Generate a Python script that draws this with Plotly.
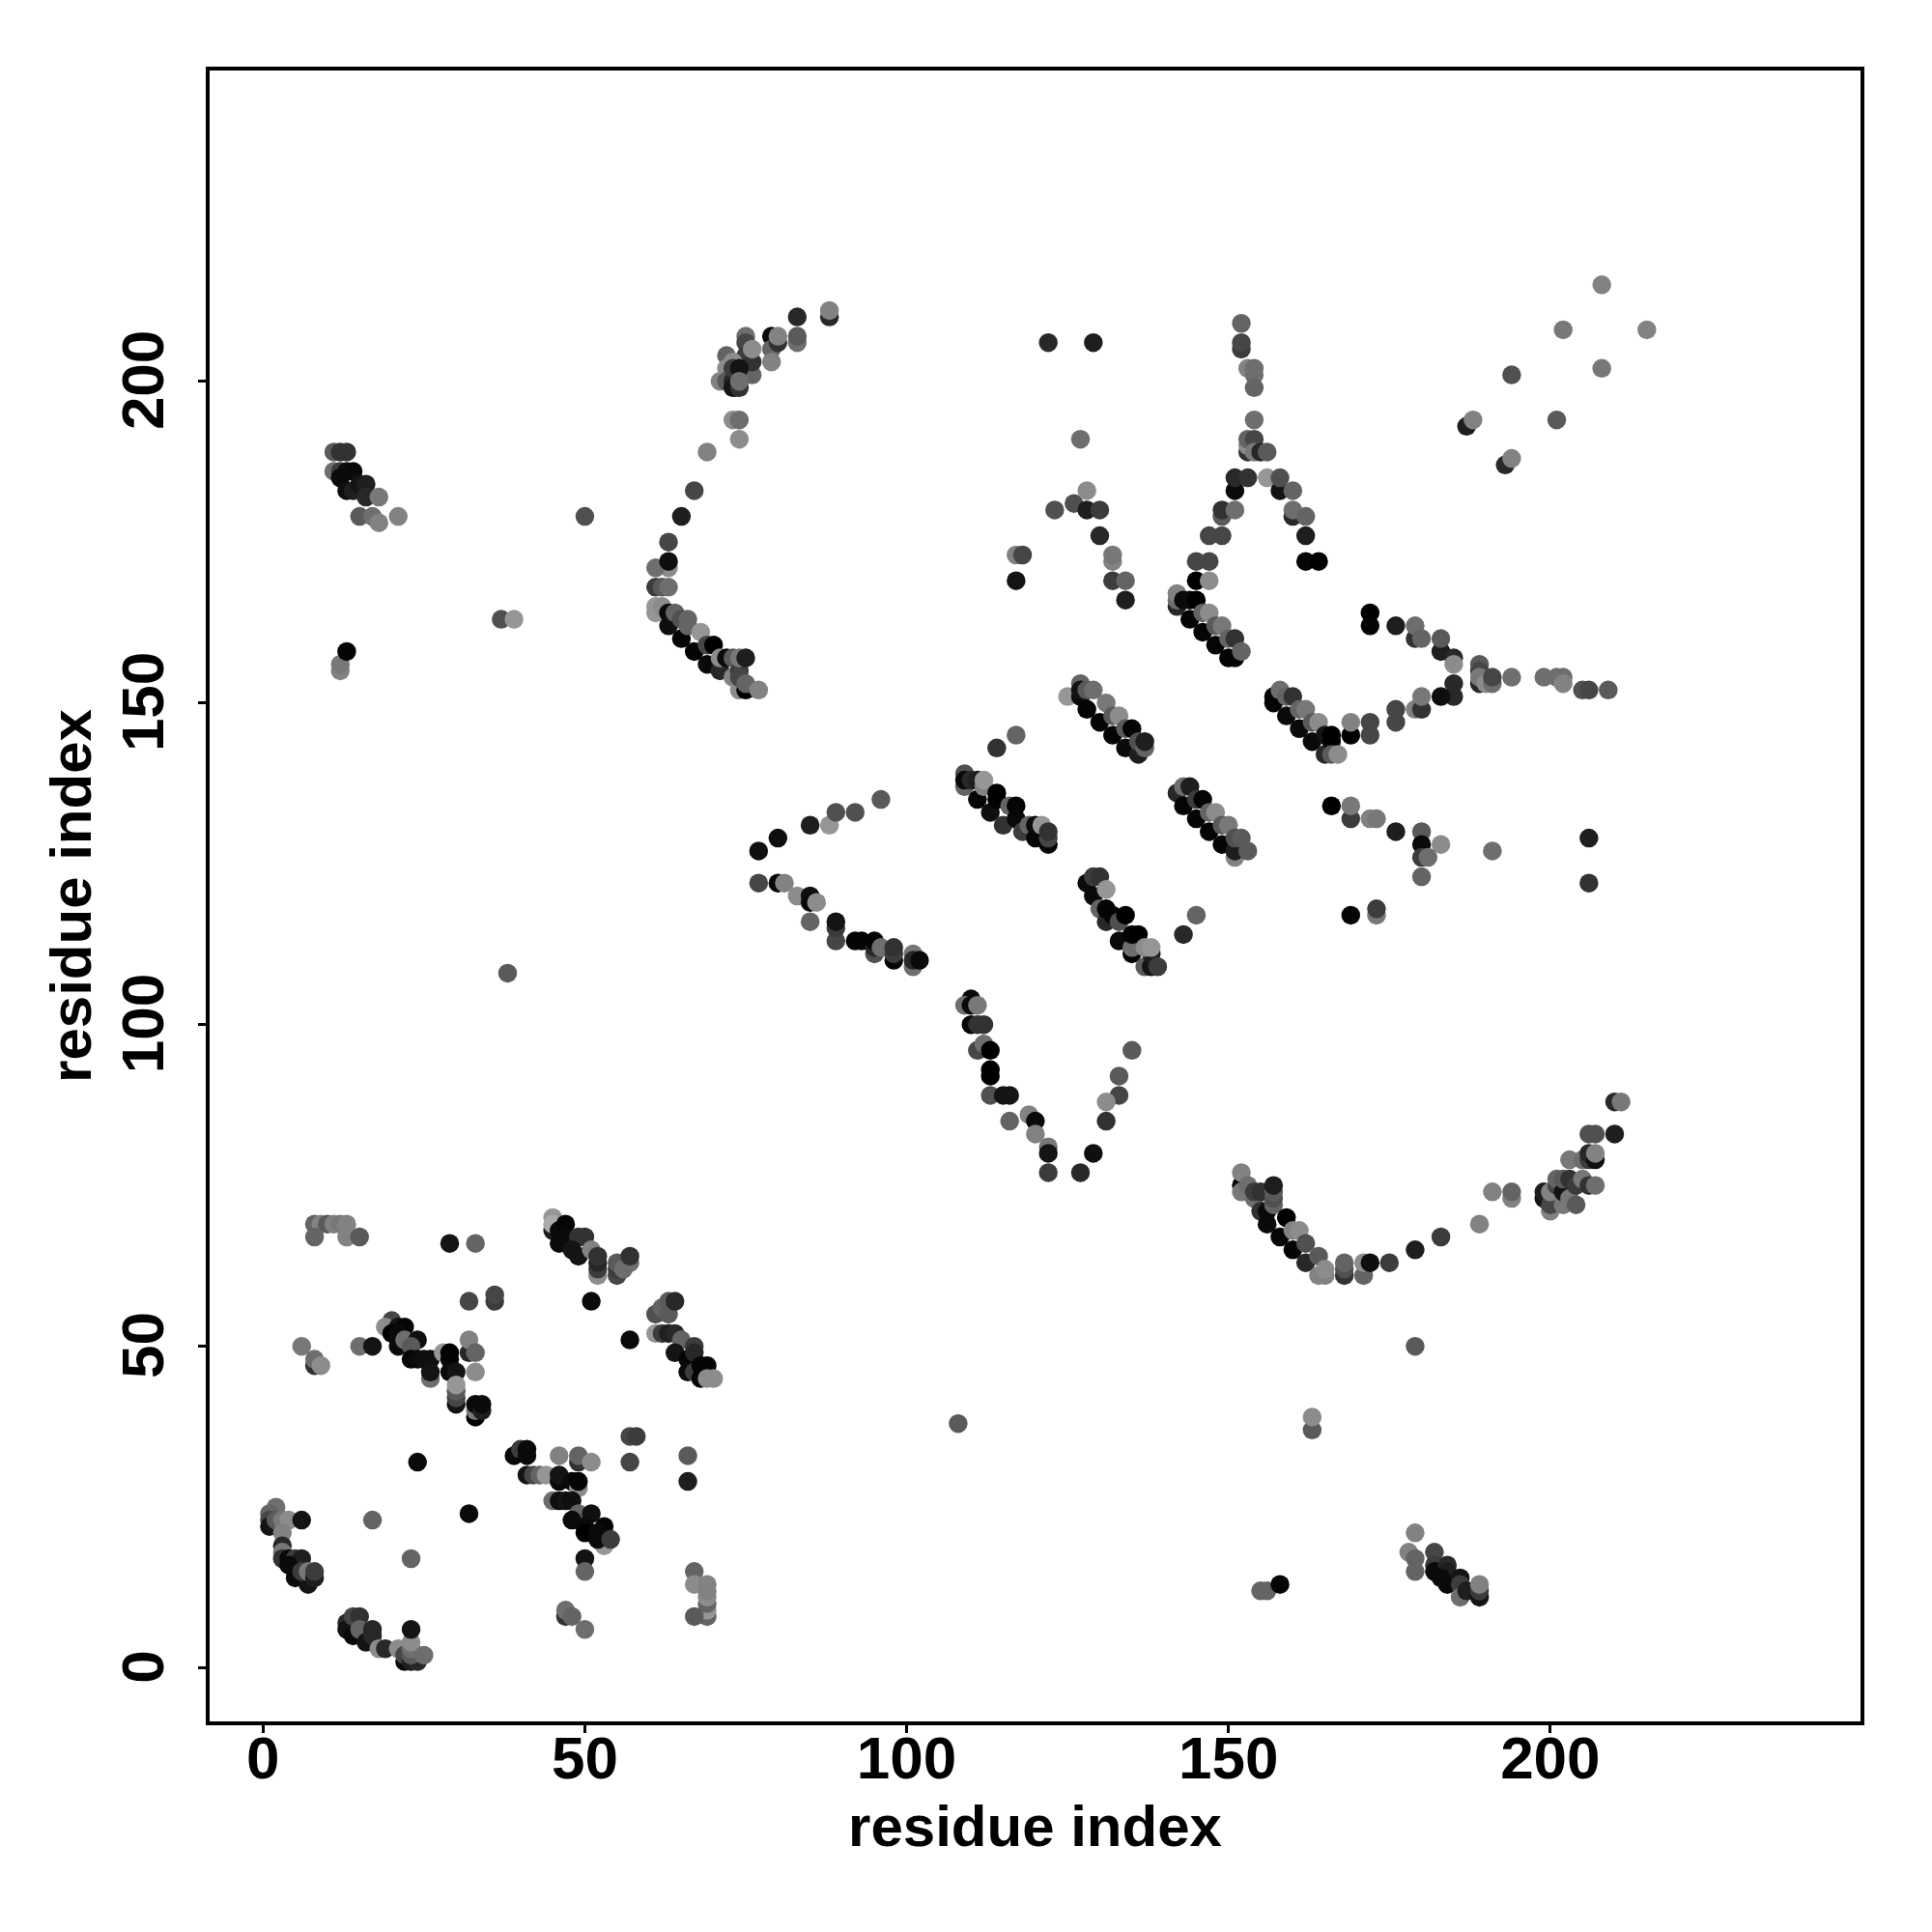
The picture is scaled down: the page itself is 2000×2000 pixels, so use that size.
import plotly.graph_objects as go

# each contact: (residue x, residue y, grey level)
lower_left_c = [(2,25,110),(1,24,100),(1,23,70),(1,22,20),(2,23,90),(3,23,120),(4,23,140),(6,23,20),(3,21,130),(3,19,40),(3,18,120),(3,17,50),(4,17,10),(5,17,60),(6,17,30),(4,16,10),(5,14,10),(7,13,20),(6,15,60),(7,15,120),(8,14,30),(8,15,60),(17,23,100),(23,17,100),(24,32,10),(32,24,10)]
bottom_arc = [(13,7,40),(13,6,20),(14,8,70),(15,8,50),(14,5,10),(15,6,100),(16,4,20),(17,6,40),(17,5,40),(18,3,140),(19,3,40),(21,3,140),(22,1,10),(22,2,70),(23,1,30),(24,1,40),(23,2,90),(23,3,110),(23,4,140),(23,6,20),(25,2,110),(47,8,50),(47,9,110),(48,8,100),(50,6,110),(50,17,20),(50,15,100)]
top_row = [(8,69,100),(9,69,130),(10,69,90),(11,69,130),(12,69,120),(13,69,130),(8,67,100),(13,67,130),(15,67,90),(29,66,20),(33,66,100),(32,57,70),(36,57,60),(36,58,70),(6,50,120),(8,47,50),(8,48,110),(9,47,140),(15,50,110),(17,50,20)]
diag_a = [(20,54,70),(19,53,140),(21,53,20),(22,53,5),(20,52,0),(21,52,10),(21,50,10),(22,51,110),(24,51,15),(23,50,90),(23,48,5),(24,48,10),(25,48,15),(26,48,15),(26,45,110),(26,46,20),(28,49,150),(29,49,0),(29,48,5),(29,46,10),(30,46,20),(30,41,20),(30,42,70),(30,43,90),(30,44,150),(32,49,40),(32,51,130),(33,49,100),(33,46,140),(33,39,0),(33,40,120),(33,41,10),(34,40,30),(34,41,10)]
diag_b = [(45,68,30),(45,70,150),(45,69,170),(46,68,10),(46,66,10),(47,69,5),(47,67,10),(49,67,50),(50,67,50),(48,65,20),(49,64,20),(51,65,130),(52,61,140),(52,62,60),(52,63,40),(52,64,50),(55,61,70),(55,62,60),(55,63,90),(56,62,110),(57,63,110),(57,64,50),(51,57,10),(57,51,10)]
diag_c = [(61,55,80),(62,56,100),(63,55,90),(63,57,90),(64,57,40),(61,52,150),(62,52,60),(63,52,30),(64,52,40),(65,51,100),(64,49,20),(66,48,5),(66,46,10),(67,46,60),(67,50,60),(67,49,40),(68,47,5),(69,47,5),(68,45,5),(69,45,140),(70,45,140)]
mid_low = [(57,36,70),(58,36,60),(57,32,70),(66,33,90),(66,29,30),(46,33,130),(49,32,50),(49,33,100),(51,32,140),(39,33,10),(40,34,60),(41,34,10),(41,33,10),(41,30,20),(42,30,70),(43,30,100),(44,30,150),(46,29,10),(46,30,20),(48,29,10),(49,28,140),(49,29,5),(45,26,110),(46,26,15),(47,26,20),(48,26,15),(49,24,100),(51,24,15),(48,23,10),(50,22,10),(53,22,5),(50,21,0),(52,21,10),(53,19,150),(52,20,10),(54,20,60),(67,15,100),(67,13,140),(69,8,100),(69,9,150),(69,10,100),(69,11,140),(69,12,130),(69,13,130),(67,8,90)]
arc_top = [(88,210,40),(88,211,130),(83,210,40),(83,206,110),(83,207,90),(79,207,10),(79,205,100),(79,203,130),(80,206,50),(80,207,130),(75,207,110),(75,206,70),(75,204,60),(75,201,100),(76,201,100),(76,203,50),(76,205,140),(71,200,130),(72,204,100),(72,202,140),(72,200,90),(73,200,40),(73,199,20),(74,199,50),(73,203,140),(73,202,60),(74,202,20),(74,200,110),(73,194,140),(74,194,110),(74,191,140),(69,189,130),(67,183,70),(65,179,30),(63,175,70),(63,171,140),(61,171,110),(63,172,15),(61,168,60),(62,168,90),(63,168,110)]
arc_low = [(61,164,150),(61,165,150),(62,165,140),(63,164,10),(63,162,15),(64,164,100),(65,163,80),(65,160,5),(66,163,100),(66,162,100),(67,158,5),(68,161,150),(69,159,70),(69,156,10),(70,159,0),(71,155,40),(71,157,140),(72,157,10),(73,157,90),(73,154,130),(74,152,140),(75,152,0),(74,155,60),(74,154,70),(75,153,100),(74,157,120),(75,157,30),(77,152,130)]
strand_1 = [(109,139,80),(109,137,100),(109,138,10),(110,138,40),(111,135,5),(111,138,30),(112,137,130),(112,138,150),(113,133,15),(114,135,5),(114,136,0),(115,131,50),(116,134,100),(117,132,10),(117,134,5),(118,130,60),(119,131,100),(120,129,5),(120,131,10),(121,131,150),(122,128,5),(122,129,70),(122,130,50)]
strand_2 = [(128,122,10),(129,123,60),(130,123,50),(129,120,10),(131,121,150),(130,118,100),(131,116,40),(131,118,5),(132,117,5),(133,113,10),(133,116,80),(134,117,0),(135,111,5),(135,112,110),(135,114,5),(136,114,0),(137,109,90),(138,109,20),(138,111,30),(137,112,140),(138,112,150),(139,109,60),(145,117,100),(143,114,40),(135,96,90)]
strand_3 = [(127,153,100),(125,151,150),(127,151,10),(127,152,20),(128,149,5),(128,152,90),(129,152,110),(130,147,5),(131,150,120),(132,145,5),(132,148,90),(133,148,140),(134,143,10),(134,146,90),(135,146,5),(136,142,30),(136,144,80),(137,143,100),(137,144,30)]
strand_4 = [(157,150,5),(157,151,5),(158,152,110),(159,148,10),(159,151,100),(160,151,50),(161,146,10),(161,149,100),(162,149,120),(163,144,10),(163,147,90),(164,147,140),(165,142,40),(165,145,20),(166,144,5),(166,145,0),(166,142,90),(167,142,140)]
strand_5 = [(142,136,40),(143,137,110),(143,134,5),(144,137,30),(145,132,5),(145,135,60),(146,135,5),(147,130,5),(147,133,100),(148,133,140),(149,128,5),(149,131,90),(150,131,120),(151,126,130),(151,127,30),(151,129,80),(152,129,90),(153,127,90),(166,134,0)]
tail_mid = [(77,122,70),(80,122,5),(81,122,130),(83,120,140),(85,120,15),(85,119,10),(86,119,140),(85,116,100),(89,113,70),(89,115,60),(89,116,20),(92,113,5),(93,113,5),(95,111,80),(95,112,40),(95,113,5),(96,112,110),(98,110,5),(98,111,60),(98,112,50),(101,109,110),(101,111,120),(101,110,40),(102,110,10),(77,127,15),(80,129,15),(85,131,30),(88,131,150),(89,133,80),(92,133,80),(96,135,90)]
v_shape = [(110,104,10),(109,103,110),(110,103,10),(111,103,120),(110,100,5),(111,100,50),(112,100,50),(111,96,70),(112,97,110),(113,96,0),(113,93,0),(113,92,0),(113,89,80),(115,89,20),(116,89,20),(116,85,100),(119,86,130),(120,85,10),(120,83,130),(122,81,120),(122,80,20),(122,77,60),(127,77,40),(129,80,15),(131,85,50),(133,89,70),(131,88,140),(133,92,90)]
peak = [(152,209,100),(152,205,60),(152,206,70),(153,202,130),(154,201,110),(154,202,110),(154,199,100),(154,194,110),(153,189,50),(153,190,140),(153,191,100),(154,191,70),(154,189,120),(155,189,40),(156,189,90),(151,183,10),(151,185,40),(153,185,50),(156,185,150),(158,183,20),(158,185,80),(160,183,100),(149,179,90),(149,180,50),(151,180,110),(160,179,40),(160,180,110),(162,179,100),(147,176,70),(149,176,70),(162,176,30),(145,172,70),(147,172,70),(162,172,5),(164,172,0),(145,169,0),(147,169,140)]
peak_foot = [(142,165,40),(142,166,110),(142,167,130),(143,166,10),(144,163,5),(144,166,10),(145,166,0),(146,161,5),(146,164,100),(147,164,140),(148,159,5),(148,162,90),(149,162,120),(150,157,5),(151,157,5),(150,160,100),(151,160,50),(152,158,100)]
right_arm = [(172,164,0),(172,162,5),(176,162,30),(179,160,50),(179,162,110),(180,160,100),(183,158,30),(183,160,90),(185,157,40),(185,156,140),(189,156,90),(189,155,70),(189,153,40),(189,154,120),(190,153,140),(191,153,110),(191,154,70),(194,154,110),(185,153,40),(185,151,40),(183,151,15),(179,149,130),(180,149,50),(180,151,120),(176,147,70),(176,149,70),(172,145,70),(172,147,70),(169,145,0),(169,147,130),(199,154,110),(201,154,110),(202,154,110),(202,153,130),(205,152,80),(206,152,70),(209,152,90)]
right_scatter = [(169,132,60),(169,134,120),(172,132,130),(173,132,120),(176,130,30),(180,130,90),(180,128,10),(183,128,140),(180,126,60),(181,126,110),(180,123,100),(191,127,110),(169,117,5),(173,117,120),(173,118,60),(206,129,30),(206,122,50)]
upper_right = [(208,215,130),(215,208,130),(202,208,120),(208,202,120),(194,201,80),(201,194,90),(187,193,30),(188,194,130),(193,187,40),(194,188,130)]
upper_mid = [(122,206,40),(129,206,30),(127,191,110),(123,180,80),(126,181,80),(128,183,140),(128,180,30),(130,180,60),(130,176,40),(132,172,130),(132,173,120),(132,169,60),(134,169,100),(134,166,30),(117,173,130),(118,173,70),(117,169,20),(117,145,100),(114,143,50),(50,179,80),(37,163,80),(39,163,150)]
upper_left = [(11,189,90),(12,189,50),(13,189,50),(11,186,110),(12,186,60),(13,186,15),(12,185,10),(14,186,10),(13,183,15),(14,183,30),(15,184,20),(16,184,30),(16,182,40),(18,182,120),(15,179,90),(17,179,110),(18,178,130),(21,179,130),(12,155,130),(12,156,120),(13,158,5),(38,108,90),(108,38,90)]
v_right_a = [(152,75,5),(152,74,120),(152,77,130),(153,75,110),(154,73,110),(154,74,60),(155,74,50),(155,71,50),(156,71,10),(156,69,10),(157,72,100),(157,73,80),(157,74,90),(157,75,30),(158,67,5),(159,70,0),(160,65,5),(160,68,130),(161,68,140),(162,63,40),(162,66,80),(164,61,130),(164,64,90),(165,61,130),(165,62,140),(168,61,50),(168,62,80),(168,63,100),(171,61,100),(171,63,140),(172,63,15),(175,63,60),(179,65,30),(183,67,60),(189,69,130)]
v_right_b = [(191,74,130),(194,73,130),(194,74,100),(199,73,20),(199,74,30),(200,71,130),(200,72,70),(200,74,130),(201,75,70),(201,76,100),(202,72,120),(202,74,20),(202,76,90),(203,73,120),(203,76,50),(204,72,90),(204,75,60),(205,76,120),(206,75,50),(207,75,110),(203,79,120),(205,79,110),(206,79,60),(206,80,40),(207,79,15),(207,80,130),(206,83,80),(207,83,80),(210,83,30),(210,88,40),(211,88,120)]
low_right = [(179,50,90),(163,37,90),(163,39,140),(179,21,130),(178,18,130),(179,17,100),(179,15,100),(182,18,70),(182,16,60),(182,15,10),(184,16,40),(184,15,30),(183,14,10),(184,13,10),(186,14,20),(186,13,60),(186,11,110),(187,12,30),(189,11,20),(189,12,60),(189,13,130),(155,12,100),(156,12,100),(158,13,5)]

tick_values = [0, 50, 100, 150, 200]
x_title = "residue index"
y_title = "residue index"

clusters = [lower_left_c, bottom_arc, top_row, diag_a, diag_b, diag_c, mid_low, arc_top, arc_low,
            strand_1, strand_2, strand_3, strand_4, strand_5, tail_mid, v_shape, peak, peak_foot,
            right_arm, right_scatter, upper_right, upper_mid, upper_left, v_right_a, v_right_b, low_right]
pts = [p for c in clusters for p in c]
xs = [p[0] for p in pts]
ys = [p[1] for p in pts]
cols = [f"rgb({p[2]},{p[2]},{p[2]})" for p in pts]

fig = go.Figure(go.Scatter(x=xs, y=ys, mode="markers", cliponaxis=True,
                           marker=dict(size=19.5, color=cols, line=dict(width=0))))
font = dict(family="Liberation Sans", size=62, color="black", weight="bold")
tfont = dict(family="Liberation Sans", size=60, color="black", weight="bold")
common = dict(tickmode="array", tickvals=tick_values, showgrid=False, zeroline=False,
              showline=True, linecolor="black", linewidth=3.5, mirror=True,
              ticks="outside", ticklen=8, tickwidth=3, tickcolor="black", tickfont=font)
fig.update_xaxes(range=[-8.3, 248.2], ticklabelstandoff=-27,
                 title=dict(text=x_title, font=tfont, standoff=17), **common)
fig.update_yaxes(range=[-8.3, 248.3], tickangle=-90, ticklabelstandoff=11, ticklabelshift=8,
                 title=dict(text=y_title, font=tfont, standoff=0), **common)
fig.update_layout(width=2000, height=2000, autosize=False, showlegend=False,
                  margin=dict(l=217, r=74, t=73, b=218, pad=0),
                  plot_bgcolor="white", paper_bgcolor="white")
fig.write_html("out.html", post_script="document.body.style.margin='0';",
               config=dict(displayModeBar=False))
